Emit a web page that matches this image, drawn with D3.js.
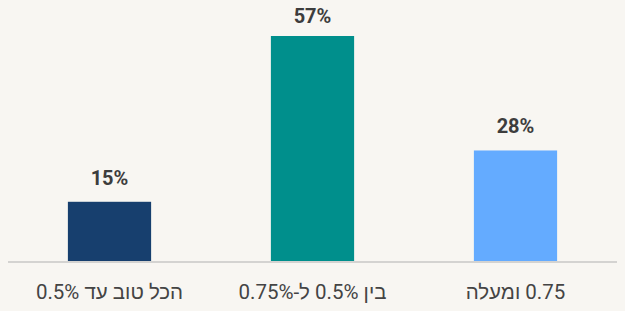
<!DOCTYPE html>
<html>
<head>
<meta charset="utf-8">
<script src="https://cdn.jsdelivr.net/npm/d3@7"></script>
<style>
  html, body { margin: 0; padding: 0; background: #f8f6f2; }
  svg { display: block; font-family: Roboto, "Noto Sans", "Liberation Sans", sans-serif; }
</style>
</head>
<body>
<div id="container"></div>
<script>
let width = 625;
let height = 311;

// data
let categories = ["הכל טוב עד 0.5%", "בין 0.5% ל-0.75%", "0.75 ומעלה"];
let values = [15, 57, 28];
let colors = ["#173f6e", "#008f8c", "#64abff"];

let baseY = 261;
let topY = 36;

let svg = d3.select("#container")
  .append("svg")
  .attr("width", width)
  .attr("height", height);

let x = d3.scaleBand()
  .domain(categories)
  .range([8, 617])
  .paddingInner(0.59)
  .paddingOuter(0.295);

let y = d3.scaleLinear()
  .domain([0, d3.max(values)])
  .range([baseY, topY]);

let data = categories.map(function (c, i) { return { cat: c, value: values[i], color: colors[i] } });

svg.selectAll("rect.bar").data(data)
  .enter().append("rect")
  .attr("class", "bar")
  .attr("x", function (d) { return x(d.cat) })
  .attr("y", function (d) { return y(d.value) })
  .attr("width", x.bandwidth())
  .attr("height", function (d) { return baseY - y(d.value) })
  .attr("fill", function (d) { return d.color });

// baseline
svg.append("line")
  .attr("x1", x.range()[0])
  .attr("x2", x.range()[1])
  .attr("y1", baseY + 1)
  .attr("y2", baseY + 1)
  .attr("stroke", "#d4d3d1")
  .attr("stroke-width", 2);

// value labels
svg.selectAll("text.val").data(data)
  .enter().append("text")
  .attr("class", "val")
  .attr("x", function (d) { return x(d.cat) + x.bandwidth() / 2 })
  .attr("y", function (d) { return Math.max(y(d.value) - 17, 23) })
  .attr("text-anchor", "middle")
  .style("font-size", "20px")
  .style("font-weight", "bold")
  .style("fill", "#3d3d3d")
  .text(function (d) { return d.value + "%" });

// category labels
svg.selectAll("text.cat").data(data)
  .enter().append("text")
  .attr("class", "cat")
  .attr("x", function (d) { return x(d.cat) + x.bandwidth() / 2 })
  .attr("y", 299)
  .attr("text-anchor", "middle")
  .attr("direction", "rtl")
  .style("font-size", "20.5px")
  .style("fill", "#444444")
  .text(function (d) { return d.cat });
</script>
</body>
</html>
